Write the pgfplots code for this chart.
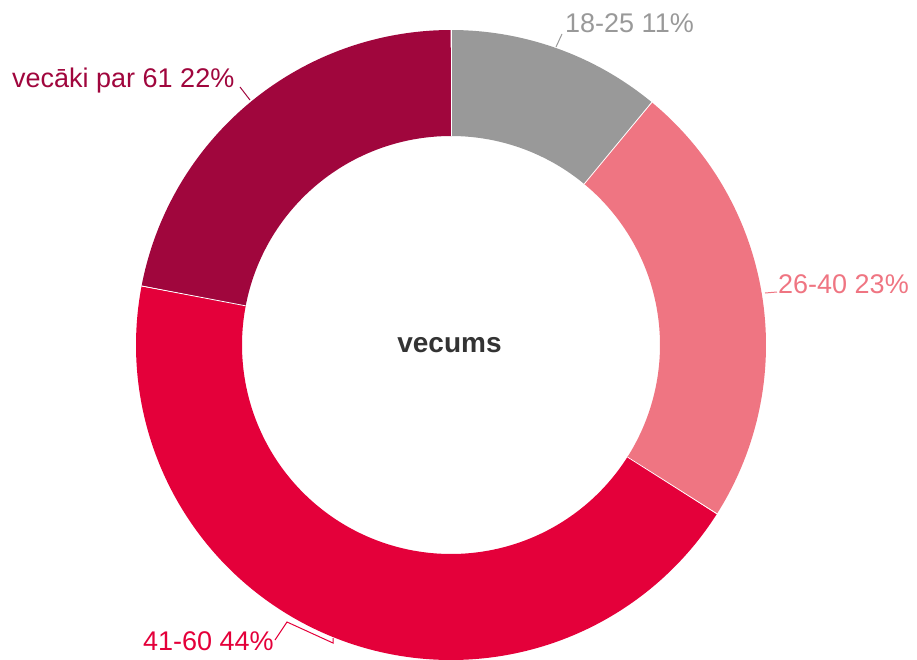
\documentclass[border=0pt]{standalone}
\usepackage{pgfplots}
\usepackage{pgfplotstable}
\pgfplotsset{compat=1.18}
\usepackage{fontspec}
\setmainfont{Liberation Sans}
\definecolor{cgray}{HTML}{999999}
\definecolor{cpink}{HTML}{EF7582}
\definecolor{cred}{HTML}{E4003A}
\definecolor{cdark}{HTML}{A0063D}
\definecolor{ctext}{HTML}{333333}
\pgfplotstableread{
name pct
a 11
b 23
c 44
d 22
}\agedata
\begin{document}
\begin{tikzpicture}
\useasboundingbox (-451pt,-314pt) rectangle (466pt,345pt);
\pgfplotstablegetelem{0}{pct}\of\agedata \pgfmathsetmacro\pA{\pgfplotsretval}
\pgfplotstablegetelem{1}{pct}\of\agedata \pgfmathsetmacro\pB{\pgfplotsretval}
\pgfplotstablegetelem{2}{pct}\of\agedata \pgfmathsetmacro\pC{\pgfplotsretval}
\pgfplotstablegetelem{3}{pct}\of\agedata \pgfmathsetmacro\pD{\pgfplotsretval}
\pgfmathsetmacro\aA{90}
\pgfmathsetmacro\aB{90-3.6*\pA}
\pgfmathsetmacro\aC{\aB-3.6*\pB}
\pgfmathsetmacro\aD{\aC-3.6*\pC}
\pgfmathsetmacro\aE{\aD-3.6*\pD}
\begin{axis}[
  at={(0,0)}, anchor=origin,
  x=1pt, y=1pt,
  xmin=-451, xmax=466, ymin=-314, ymax=345,
  hide axis, clip=false,
]
\addplot[cgray, line width=106pt, domain=\aB:\aA, samples=60] ({262*cos(x)},{262*sin(x)});
\addplot[cpink, line width=106pt, domain=\aC:\aB, samples=100] ({262*cos(x)},{262*sin(x)});
\addplot[cred, line width=106pt, domain=\aD:\aC, samples=160] ({262*cos(x)},{262*sin(x)});
\addplot[cdark, line width=106pt, domain=\aE:\aD, samples=100] ({262*cos(x)},{262*sin(x)});
% separators
\addplot[white, line width=0.8pt, domain=209:315, samples=2] ({x*cos(\aA)},{x*sin(\aA)});
\addplot[white, line width=0.8pt, domain=209:315, samples=2] ({x*cos(\aB)},{x*sin(\aB)});
\addplot[white, line width=0.8pt, domain=209:315, samples=2] ({x*cos(\aC)},{x*sin(\aC)});
\addplot[white, line width=0.8pt, domain=209:315, samples=2] ({x*cos(\aD)},{x*sin(\aD)});
% leader lines
\addplot[cgray, line width=1pt] coordinates {(105,298) (111,311)};
\addplot[cpink, line width=1pt] coordinates {(314,52) (326,53)};
\addplot[cred, line width=1pt] coordinates {(-176,-295) (-164,-277) (-118,-298) (-118,-293)};
\addplot[cdark, line width=1pt] coordinates {(-211,258) (-201,245)};
% labels
\node[anchor=base west, inner sep=0pt, text=cgray, font=\fontsize{27}{32}\selectfont] at (axis cs:114,312) {18-25 11\%};
\node[anchor=base west, inner sep=0pt, text=cpink, font=\fontsize{27}{32}\selectfont] at (axis cs:327,52) {26-40 23\%};
\node[anchor=base west, inner sep=0pt, text=cred, font=\fontsize{27}{32}\selectfont] at (axis cs:-308,-305) {41-60 44\%};
\node[anchor=base west, inner sep=0pt, text=cdark, font=\fontsize{27}{32}\selectfont] at (axis cs:-439,257) {vecāki par 61 22\%};
\node[anchor=base, inner sep=0pt, text=ctext, font=\bfseries\fontsize{28}{33}\selectfont] at (axis cs:-1.5,-7) {vecums};
\end{axis}
\end{tikzpicture}
\end{document}
